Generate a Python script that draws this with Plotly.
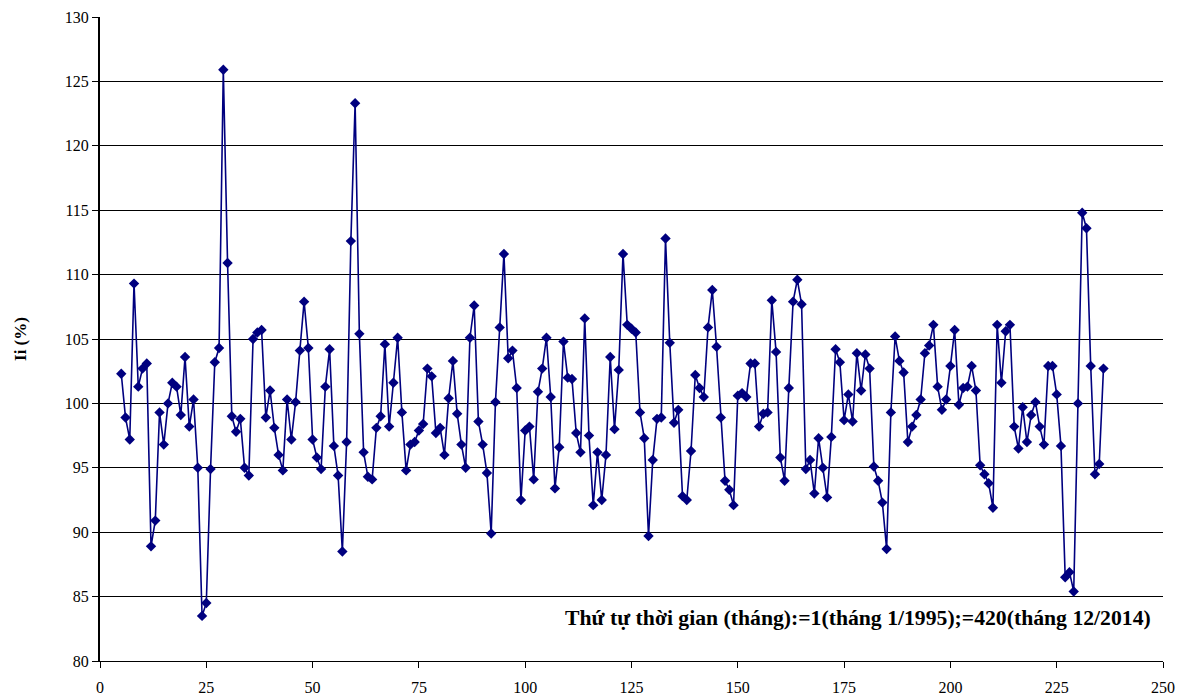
import plotly.graph_objects as go

months = list(range(5, 237))
ii_values = [
    102.3, 98.9, 97.2, 109.3, 101.3, 102.7, 103.1, 88.9, 90.9, 99.3,
    96.8, 100.0, 101.6, 101.3, 99.1, 103.6, 98.2, 100.3, 95.0, 83.5,
    84.5, 94.9, 103.2, 104.3, 125.9, 110.9, 99.0, 97.8, 98.8, 95.0,
    94.4, 105.0, 105.5, 105.7, 98.9, 101.0, 98.1, 96.0, 94.8, 100.3,
    97.2, 100.1, 104.1, 107.9, 104.3, 97.2, 95.8, 94.9, 101.3, 104.2,
    96.7, 94.4, 88.5, 97.0, 112.6, 123.3, 105.4, 96.2, 94.3, 94.1,
    98.1, 99.0, 104.6, 98.2, 101.6, 105.1, 99.3, 94.8, 96.8, 97.0,
    97.9, 98.4, 102.7, 102.1, 97.7, 98.1, 96.0, 100.4, 103.3, 99.2,
    96.8, 95.0, 105.1, 107.6, 98.6, 96.8, 94.6, 89.9, 100.1, 105.9,
    111.6, 103.5, 104.1, 101.2, 92.5, 97.9, 98.2, 94.1, 100.9, 102.7,
    105.1, 100.5, 93.4, 96.6, 104.8, 102.0, 101.9, 97.7, 96.2, 106.6,
    97.5, 92.1, 96.2, 92.5, 96.0, 103.6, 98.0, 102.6, 111.6, 106.1,
    105.8, 105.5, 99.3, 97.3, 89.7, 95.6, 98.8, 98.9, 112.8, 104.7,
    98.5, 99.5, 92.8, 92.5, 96.3, 102.2, 101.2, 100.5, 105.9, 108.8,
    104.4, 98.9, 94.0, 93.3, 92.1, 100.6, 100.8, 100.5, 103.1, 103.1,
    98.2, 99.2, 99.3, 108.0, 104.0, 95.8, 94.0, 101.2, 107.9, 109.6,
    107.7, 94.9, 95.6, 93.0, 97.3, 95.0, 92.7, 97.4, 104.2, 103.2,
    98.7, 100.7, 98.6, 103.9, 101.0, 103.8, 102.7, 95.1, 94.0, 92.3,
    88.7, 99.3, 105.2, 103.3, 102.4, 97.0, 98.2, 99.1, 100.3, 103.9,
    104.5, 106.1, 101.3, 99.5, 100.3, 102.9, 105.7, 99.9, 101.2, 101.3,
    102.9, 101.0, 95.2, 94.5, 93.8, 91.9, 106.1, 101.6, 105.6, 106.1,
    98.2, 96.5, 99.7, 97.0, 99.1, 100.1, 98.2, 96.8, 102.9, 102.9,
    100.7, 96.7, 86.5, 86.9, 85.4, 100.0, 114.8, 113.6, 102.9, 94.5,
    95.3, 102.7,
]

x_ticks = [0, 25, 50, 75, 100, 125, 150, 175, 200, 225, 250]
y_ticks = [80, 85, 90, 95, 100, 105, 110, 115, 120, 125, 130]
y_title = "Ii (%)"
note = "Thứ tự thời gian (tháng):=1(tháng 1/1995);=420(tháng 12/2014)"

serif = "Liberation Serif, Times New Roman, serif"

fig = go.Figure()
fig.add_trace(go.Scatter(
    x=months, y=ii_values, mode="lines+markers",
    line=dict(color="#00007F", width=1.6),
    marker=dict(symbol="diamond", size=8, color="#00007F"),
    showlegend=False,
))

fig.update_layout(
    width=1185, height=698,
    margin=dict(l=100, r=22, t=17, b=37),
    paper_bgcolor="white", plot_bgcolor="white",
    font=dict(family=serif, size=16, color="black"),
    xaxis=dict(
        range=[0, 250], tickvals=x_ticks, ticktext=[str(v) for v in x_ticks],
        showgrid=False, zeroline=False, automargin=False,
        showline=True, linecolor="black", linewidth=1,
        ticks="outside", ticklen=6, tickcolor="black",
        ticklabelstandoff=6,
        tickfont=dict(family=serif, size=16),
    ),
    yaxis=dict(
        range=[80, 130], tickvals=y_ticks, ticktext=[str(v) for v in y_ticks],
        showgrid=True, gridcolor="black", gridwidth=1, zeroline=False, automargin=False,
        showline=True, linecolor="black", linewidth=2,
        ticks="outside", ticklen=6, tickcolor="black",
        tickfont=dict(family=serif, size=16),
        title=dict(text="<b>" + y_title + "</b>", font=dict(family=serif, size=17), standoff=34),
    ),
    annotations=[dict(
        text="<b>" + note + "</b>", xref="paper", yref="paper",
        x=0.991, y=0.067, xanchor="right", yanchor="middle",
        showarrow=False, font=dict(family=serif, size=21.7, color="black"),
    )],
)

fig.write_html("out.html")
